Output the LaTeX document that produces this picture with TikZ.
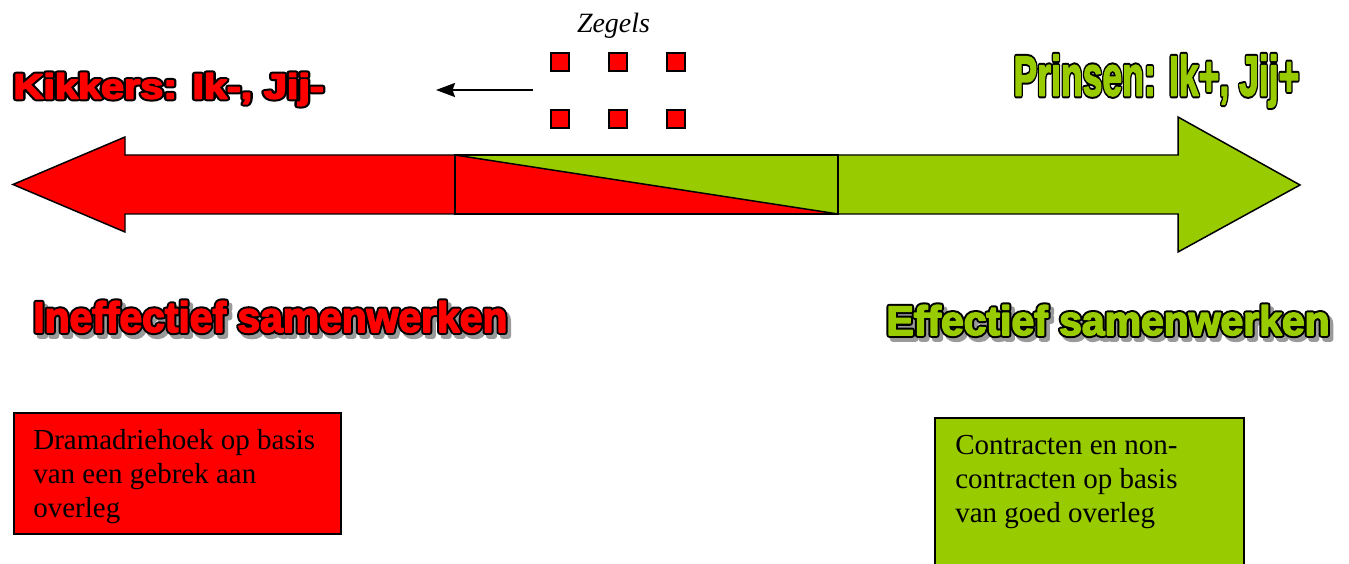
\documentclass[tikz,border=0pt]{standalone}
\usepackage{fontspec}
\setmainfont{Liberation Serif}
\newfontfamily\wafont{Liberation Sans}
\usetikzlibrary{arrows.meta}
\definecolor{wred}{HTML}{FF0000}
\definecolor{wgreen}{HTML}{99CC00}
\definecolor{shadowgray}{HTML}{9A9A9A}
\newdimen\pxu \pxu=0.5669pt
% text drawn filled and stroked with width #1
\newcommand\strk[2]{\special{pdf:literal direct #1 w 1 j 2 Tr}#2\special{pdf:literal direct 0 Tr}}
% outlined, squeezed text: #1 width px, #2 height px, #3 font size pt, #4 colour, #5 shadow only 0/1, #6 text
\newcommand\watext[6]{%
  \resizebox{#1\pxu}{#2\pxu}{\fontsize{#3}{#3}\wafont\bfseries
    \ifnum#5=1
      \color{shadowgray}\strk{3.2}{#6}%
    \else
      \rlap{\color{black}\strk{3.2}{#6}}\color{#4}\strk{0.9}{#6}%
    \fi}}
% #1 name, #2 x, #3 baseline y, #4 width, #5 height, #6 font size, #7 colour, #8 shadow 0/1, #9 text
\newcommand\wordart[9]{%
  \ifnum#8=1
    \node[waglyph, xshift=0.07cm, yshift=-0.08cm] (#1shadow) at (#2,#3)
      {\watext{#4}{#5}{#6}{shadowgray}{1}{#9}};
  \fi
  \node[waglyph] (#1) at (#2,#3) {\watext{#4}{#5}{#6}{#7}{0}{#9}};
}
\tikzset{
  waglyph/.style={anchor=base west, inner sep=0pt, outer sep=0pt},
  bigarrow/.style={draw=black, line width=0.85pt, line join=miter},
  sq/.style={draw=black, fill=wred, line width=1.1pt, minimum size=0.36cm, inner sep=0pt},
  infobox/.style={draw=black, line width=1pt, anchor=north west, inner sep=0pt},
  boxtext/.style={anchor=north west, inner sep=0pt, align=left,
    font=\fontsize{16.5}{19.3}\selectfont},
}
\begin{document}
\begin{tikzpicture}[x=0.02cm,y=-0.02cm]
\useasboundingbox (0,0) rectangle (1349,564);

% main double arrow
\path[bigarrow, fill=wred] (455,155) -- (125,155) -- (125,137) -- (13,184.5)
  -- (125,232) -- (125,214) -- (455,214) -- cycle;
\path[bigarrow, fill=wgreen] (838,155) -- (1178,155) -- (1178,117) -- (1300,185)
  -- (1178,252) -- (1178,214) -- (838,214) -- cycle;
\fill[wgreen] (455,155) rectangle (838,214);
\fill[wred] (455,155) -- (838,214) -- (455,214) -- cycle;
\draw[bigarrow] (455,155) rectangle (838,214);
\draw[bigarrow] (455,155) -- (838,214);

% stamps
\node[font=\itshape\fontsize{15.9}{18}\selectfont, anchor=base] (zegels) at (613.5,33) {Zegels};
\foreach \i/\x/\y in {1/560/62, 2/618/62, 3/676/62, 4/560/119, 5/618/119, 6/676/119}
  \node[sq] (s\i) at (\x,\y) {};
\coordinate (arrS) at (533,90);
\coordinate (arrE) at (436,90);
\draw[line width=1.1pt, -{Stealth[length=0.38cm, width=0.28cm, inset=0.05cm]}] (arrS) -- (arrE);

% titles
\wordart{kik}{13.5}{98.5}{311.5}{25.5}{20}{wred}{0}{Kikkers: Ik-, Jij-}
\wordart{prins}{1013.5}{95.5}{287}{41}{32}{wgreen}{0}{Prinsen: Ik+, Jij+}
\wordart{ineff}{33.3}{332}{476}{31}{24}{wred}{1}{Ineffectief samenwerken}
\wordart{eff}{886.5}{335}{445}{30}{23.5}{wgreen}{1}{Effectief samenwerken}

% info boxes
\node[infobox, fill=wred, minimum width=6.54cm, minimum height=2.42cm] (b1) at (13,412) {};
\node[boxtext] (t1) at ([shift={(20,17)}]b1.north west)
  {Dramadriehoek op basis\\van een gebrek aan\\overleg};
\node[infobox, fill=wgreen, minimum width=6.18cm, minimum height=3.1cm] (b2) at (934,417) {};
\node[boxtext] (t2) at ([shift={(21,18.3)}]b2.north west)
  {Contracten en non-\\contracten op basis\\van goed overleg};
\end{tikzpicture}
\end{document}
